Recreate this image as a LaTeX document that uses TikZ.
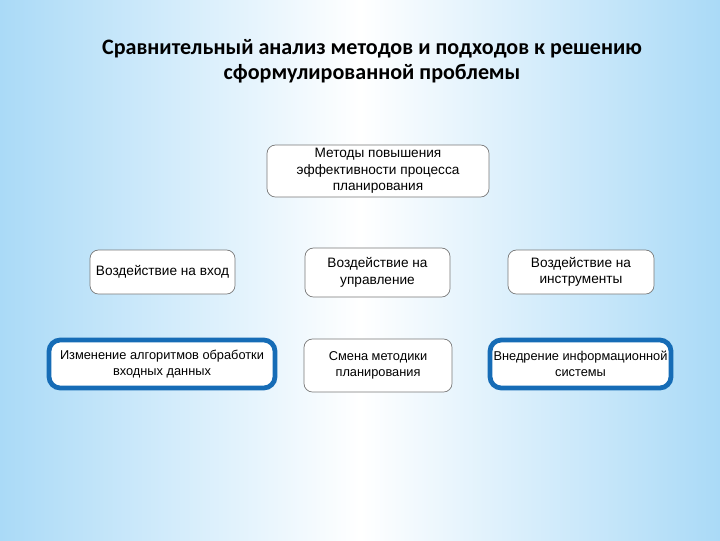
\documentclass[tikz,border=0pt]{standalone}
\usepackage{fontspec}
\setmainfont{Liberation Sans}
\newfontfamily\titlefont{Carlito}
\usetikzlibrary{positioning}

\definecolor{bgblue}{RGB}{170,218,247}
\definecolor{frameblue}{RGB}{22,108,182}
\definecolor{edgegray}{RGB}{120,120,120}

\def\px{0.025cm}

\begin{document}
\begin{tikzpicture}[x=\px, y=-\px,
  box/.style={draw=edgegray, line width=0.5pt, fill=white, rounded corners=6pt,
    align=center, font=\fontsize{9.7}{11.8}\selectfont, inner sep=0pt},
  bluebox/.style={box, draw=frameblue, line width=3.4pt, rounded corners=8pt},
  small/.style={font=\fontsize{9.1}{11.8}\selectfont}]

% Background
\useasboundingbox (0,0) rectangle (720,540);
\shade[left color=bgblue, right color=bgblue, middle color=white] (0,0) rectangle (720,540);

% Title
\node[font=\titlefont\bfseries\fontsize{15.7}{17.5}\selectfont, align=center] (title)
  at (372,61) {Сравнительный анализ методов и подходов к решению\\сформулированной проблемы};

% Top
\node[box, minimum width=222*\px, minimum height=52*\px] (methods) at (378,171)
  {Методы повышения\\эффективности процесса\\планирования};

% Middle row
\node[box, minimum width=145*\px, minimum height=44*\px] (input) at (162.5,272) {Воздействие на вход};
\node[box, minimum width=145*\px, minimum height=49*\px] (control) at (377.5,272.5)
  {Воздействие на\\управление};
\node[box, minimum width=146*\px, minimum height=44*\px] (tools) at (581,272)
  {Воздействие на\\инструменты};

% Bottom row
\node[bluebox, small, minimum width=226*\px, minimum height=48*\px] (algo) at (162,364)
  {Изменение алгоритмов обработки\\входных данных};
\node[box, small, minimum width=148*\px, minimum height=53*\px] (change) at (378,365.5)
  {Смена методики\\планирования};
\node[bluebox, small, minimum width=181*\px, minimum height=48*\px] (infosys) at (580.5,364)
  {Внедрение информационной\\системы};

\end{tikzpicture}
\end{document}
